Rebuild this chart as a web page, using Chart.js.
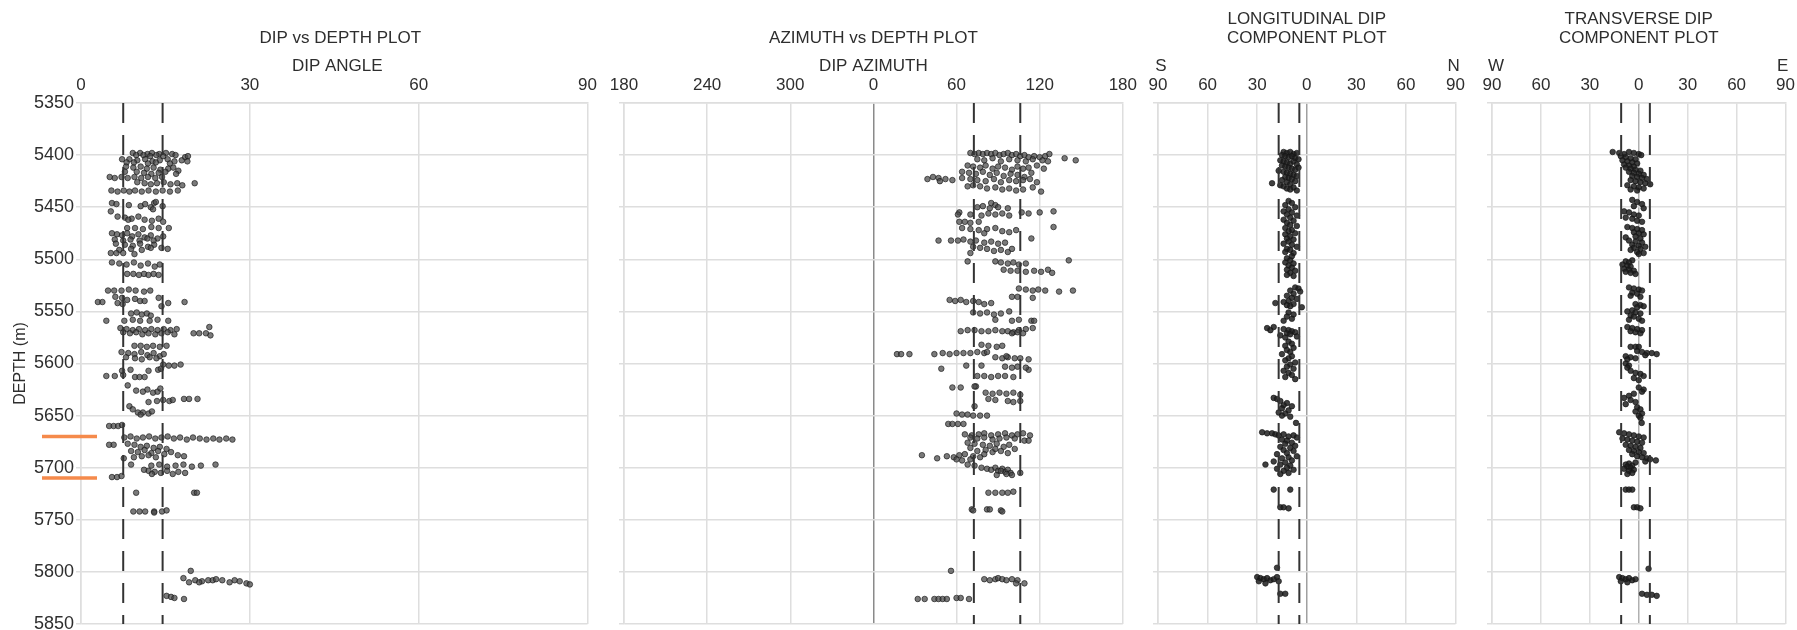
<!DOCTYPE html>
<html>
<head>
<meta charset="utf-8">
<script src="https://cdn.jsdelivr.net/npm/chart.js@4.4.1/dist/chart.umd.min.js"></script>
<style>
  html, body { margin: 0; padding: 0; background: #fff; overflow: hidden; }
  #wrap { position: relative; width: 1797px; height: 630px; }
  .panel { position: absolute; top: 0; }
</style>
</head>
<body>
<div id="wrap">
  <div class="panel" style="left:0px"><canvas id="dipChart" width="604" height="642"></canvas></div>
  <div class="panel" style="left:600px"><canvas id="aziChart" width="544" height="642"></canvas></div>
  <div class="panel" style="left:1134px"><canvas id="longChart" width="338" height="642"></canvas></div>
  <div class="panel" style="left:1468px"><canvas id="transChart" width="334" height="642"></canvas></div>
</div>
<script>
// depth axis
const depthMin = 5350;
const depthMax = 5850;
const depthStep = 50;
const markerDepths = [5670, 5710];

// dashed reference lines per panel
const dipRefs = [7.5, 14.5];
const aziRefs = [72.5, 106];
const longRefs = [-17, -4.5];
const transRefs = [-10.8, 6.8];

// [depth, dip angle]
const dipPoints = [
  [5398,9.2],[5398,10.5],[5399,11.8],[5398,12.6],[5399,13.9],[5398,15.1],[5399,16.2],[5400,9.8],[5400,11.1],[5401,12.3],[5400,13.4],[5401,14.6],[5400,16.8],[5402,18.5],[5401,19.0],
  [5404,7.3],[5404,8.6],[5405,10.0],[5404,11.4],[5406,12.7],[5405,14.0],[5404,15.4],[5406,16.6],[5405,17.9],[5407,8.1],[5407,9.4],[5408,11.9],[5407,13.3],[5408,15.8],[5406,18.9],
  [5411,8.0],[5412,9.3],[5411,10.6],[5413,11.7],[5412,12.9],[5414,14.1],[5413,15.5],[5412,16.4],[5415,17.3],[5416,7.8],[5416,9.9],[5417,11.2],[5418,12.5],[5417,13.8],[5416,15.0],[5418,16.9],
  [5421,5.1],[5422,6.0],[5421,7.2],[5422,8.3],[5421,9.5],[5422,10.7],[5421,11.9],[5422,13.2],[5421,14.4],
  [5426,10.0],[5427,11.3],[5428,12.4],[5427,13.5],[5426,14.7],[5428,15.9],[5427,17.1],[5429,18.0],[5427,20.2],
  [5434,5.4],[5435,6.5],[5434,7.6],[5435,8.6],[5434,9.6],[5435,10.8],[5434,12.0],[5435,13.3],[5434,14.5],[5435,15.8],[5434,17.2],
  [5446,5.5],[5447,6.3],[5448,8.5],[5449,10.6],[5447,11.4],[5450,12.4],[5446,13.0],[5445,13.3],[5449,14.5],[5454,5.3],[5452,12.8],
  [5459,6.5],[5460,7.8],[5461,9.0],[5459,10.2],[5462,11.3],[5463,12.6],[5461,13.8],[5464,14.6],[5462,8.4],
  [5470,8.2],[5470,9.6],[5471,11.0],[5469,12.5],[5470,13.8],[5470,15.6],
  [5475,5.5],[5476,6.4],[5477,7.3],[5475,8.2],[5478,9.1],[5476,10.2],[5479,11.3],[5477,12.4],[5480,13.6],[5478,14.6],[5481,6.0],[5482,7.5],[5481,8.8],[5482,10.4],[5480,11.8],[5482,12.9],
  [5485,6.2],[5486,7.8],[5487,9.2],[5485,10.5],[5488,11.9],[5486,13.0],[5489,14.3],[5490,15.4],[5491,6.8],[5490,8.9],[5491,10.8],[5489,12.4],
  [5494,5.3],[5494,6.3],[5494,7.5],[5495,9.5],
  [5503,5.5],[5504,6.8],[5505,8.1],[5503,9.4],[5506,10.6],[5504,11.9],[5507,13.1],[5505,14.0],
  [5514,8.2],[5514,9.3],[5515,10.3],[5514,11.2],[5515,12.0],[5514,12.9],[5515,13.8],
  [5530,4.8],[5530,5.9],[5530,7.2],[5529,8.5],[5530,9.7],[5531,11.2],[5530,12.3],
  [5536,6.1],[5537,7.3],[5539,8.2],[5538,9.6],[5540,10.5],[5541,3.0],[5541,3.8],[5542,6.5],[5540,11.3],[5543,7.4],[5542,15.5],[5541,18.4],[5537,13.8],[5545,14.3],
  [5552,8.9],[5551,9.9],[5553,10.8],[5552,11.7],[5554,12.4],
  [5559,4.5],[5559,7.7],[5558,9.2],[5559,10.5],[5559,12.2],[5558,13.6],[5559,15.5],
  [5566,7.0],[5567,8.1],[5568,9.2],[5567,10.3],[5568,11.4],[5567,12.5],[5568,13.6],[5567,14.7],[5568,15.9],[5567,17.0],[5570,7.5],[5571,8.7],[5570,9.8],[5572,10.9],[5571,12.0],[5572,13.2],[5571,14.3],[5570,15.4],[5572,16.6],[5571,20.0],[5571,21.0],[5571,22.2],[5573,23.0],[5565,22.8],
  [5583,9.5],[5583,10.6],[5584,11.7],[5583,12.8],[5584,14.0],[5583,15.2],
  [5589,7.2],[5590,8.4],[5591,9.5],[5589,10.7],[5592,11.8],[5590,12.9],[5593,14.0],[5591,14.7],[5594,8.0],[5595,9.6],[5596,10.8],[5594,12.2],[5595,13.4],
  [5601,14.6],[5602,15.6],[5602,16.6],[5601,17.7],
  [5612,4.5],[5612,6.0],[5611,7.5],[5607,7.3],[5606,8.8],[5613,9.6],[5613,10.4],[5613,11.3],[5607,12.0],[5606,13.7],[5605,14.2],
  [5621,8.3],[5626,9.8],[5627,11.0],[5625,11.8],[5628,12.8],[5627,13.6],[5624,14.1],
  [5637,12.0],[5636,13.5],[5635,14.6],[5636,15.7],[5635,16.3],[5634,18.3],[5634,19.2],[5634,20.7],
  [5641,8.6],[5644,9.2],[5647,10.1],[5647,11.0],[5648,12.0],[5646,12.6],[5649,10.6],
  [5660,5.0],[5660,5.8],[5660,6.6],[5659,7.3],
  [5671,7.7],[5670,8.8],[5672,9.9],[5671,11.0],[5670,12.1],[5672,13.2],[5671,14.3],[5670,15.4],[5672,16.5],[5671,17.6],[5673,18.8],[5671,19.9],[5672,21.1],[5673,22.3],[5672,23.5],[5673,24.6],[5672,25.8],[5673,26.9],
  [5678,5.0],[5678,5.8],
  [5677,8.3],[5678,9.5],[5680,10.6],[5679,11.7],[5681,12.9],[5680,14.0],[5682,15.2],[5684,8.9],[5685,10.1],[5683,11.3],[5686,12.5],[5684,13.7],[5687,14.8],[5685,16.0],[5688,17.2],[5689,10.8],[5688,12.0],[5690,13.3],[5689,18.3],[5691,7.6],[5690,9.4],
  [5697,8.9],[5698,12.5],[5697,13.9],[5699,15.3],[5698,16.8],[5697,18.2],[5699,19.7],[5698,21.3],[5697,23.9],
  [5703,12.0],[5704,13.1],[5705,14.2],[5703,15.3],[5706,16.3],[5704,17.3],[5705,18.5],[5702,11.2],[5706,12.6],
  [5709,5.5],[5709,6.4],[5708,7.2],
  [5724,9.8],[5724,20.1],[5724,20.6],
  [5742,9.3],[5742,10.4],[5742,11.4],[5742,13.0],[5743,13.0],[5742,14.4],[5741,15.2],
  [5799,19.5],
  [5806,18.2],[5808,20.3],[5810,19.2],[5809,21.5],[5808,22.6],[5808,23.4],[5807,24.0],[5808,25.1],[5810,26.4],[5808,27.3],[5809,28.2],[5811,29.4],[5812,30.0],[5810,21.0],
  [5823,15.2],[5824,16.0],[5825,16.6],[5826,18.3]
];

// [depth, dip azimuth]
const aziPoints = [
  [5398,70],[5399,73],[5398,76],[5399,79],[5398,82],[5399,85],[5398,88],[5400,91],[5399,94],[5398,97],[5400,100],[5399,103],[5401,106],[5400,109],[5402,112],[5401,116],[5402,120],[5401,124],[5399,127],
  [5403,138],[5405,146],[5404,75],[5405,80],[5403,86],[5406,92],[5404,98],[5405,104],[5406,110],[5404,115],[5405,122],[5406,126],
  [5410,68],[5411,72],[5412,77],[5410,81],[5413,86],[5411,90],[5412,95],[5414,100],[5411,104],[5413,108],[5412,112],[5410,118],[5413,123],
  [5416,64],[5417,69],[5418,74],[5416,79],[5419,84],[5417,89],[5420,94],[5418,99],[5419,104],[5421,109],[5417,114],
  [5423,39],[5421,43],[5422,47],[5425,48],[5423,52],[5424,57],[5422,64],[5423,70],[5424,75],[5425,81],[5423,87],[5426,92],[5424,98],[5425,103],[5424,108],[5423,113],[5426,118],
  [5429,72],[5430,77],[5432,82],[5431,88],[5433,93],[5432,98],[5434,103],[5433,108],[5431,115],[5435,121],[5430,68],
  [5446,85],[5448,88],[5450,75],[5449,79],[5451,84],[5450,90],[5451,97],
  [5455,62],[5457,61],[5457,70],[5458,78],[5456,83],[5457,88],[5456,93],[5458,98],[5455,107],[5456,112],[5455,120],[5454,130],
  [5464,62],[5464,66],[5465,70],[5464,76],
  [5469,130],[5470,64],[5471,70],[5472,76],[5471,82],[5470,88],[5473,93],[5474,98],[5472,103],[5475,80],
  [5482,47],[5482,56],[5482,61],[5481,65],[5483,70],[5482,74],[5484,80],[5483,85],[5485,90],[5484,95],[5480,114],
  [5488,72],[5489,77],[5490,82],[5492,87],[5491,92],[5493,97],[5490,100],[5494,70],
  [5502,68],[5502,88],[5503,92],[5504,97],[5503,101],[5505,105],[5504,110],[5501,141],
  [5510,94],[5511,99],[5511,104],[5512,110],[5511,116],[5512,121],[5510,126],[5513,129],
  [5528,105],[5529,110],[5530,115],[5529,119],[5530,124],[5531,134],[5530,144],
  [5536,100],[5536,104],[5537,115],
  [5539,55],[5540,59],[5539,63],[5541,67],[5540,72],[5541,76],[5543,80],[5542,85],
  [5551,72],[5552,77],[5551,82],[5553,87],[5552,92],[5550,98],
  [5558,88],[5559,100],[5558,105],[5559,114],[5559,116],
  [5569,63],[5568,68],[5568,73],[5569,78],[5569,83],[5568,88],[5569,93],[5569,97],[5570,101],[5568,105],[5567,110],[5566,115],[5571,100],[5570,104],[5571,108],
  [5582,78],[5583,83],[5584,89],[5583,93],
  [5591,17],[5591,20],[5591,26],[5591,44],[5590,50],[5591,55],[5590,60],[5590,65],[5590,70],[5589,75],[5590,80],[5589,82],[5594,88],[5595,93],[5594,97],[5595,102],[5595,106],[5596,112],[5593,96],
  [5605,49],[5602,67],[5602,78],[5603,95],[5604,100],[5603,104],[5606,112],[5604,110],
  [5612,75],[5612,80],[5613,85],[5612,90],[5612,95],[5613,101],
  [5623,57],[5623,63],[5622,74],[5622,73],
  [5628,81],[5629,86],[5628,91],[5629,96],[5628,101],[5630,106],[5634,83],[5635,88],[5636,97],[5637,101],[5636,106],
  [5641,73],
  [5648,60],[5649,64],[5649,68],[5650,72],[5650,77],[5650,82],
  [5658,54],[5658,57],[5658,61],[5658,65],
  [5668,66],[5669,71],[5668,76],[5667,80],[5669,85],[5668,90],[5667,95],[5669,100],[5668,104],[5667,108],[5669,113],[5671,70],[5672,75],[5671,80],[5673,86],[5672,91],[5671,96],[5672,102],[5674,109],[5674,112],
  [5676,68],[5677,73],[5678,79],[5679,84],[5677,89],[5680,94],[5678,98],[5682,102],[5681,70],[5684,75],[5683,81],[5685,86],[5684,92],[5686,97],[5687,80],[5682,88],
  [5688,35],[5691,46],[5689,53],[5690,58],[5688,62],[5687,66],[5689,72],[5690,77],[5692,60],[5693,64],[5692,70],
  [5697,68],[5698,73],[5700,78],[5701,82],[5702,85],[5700,88],[5703,90],[5701,93],[5704,95],[5702,97],[5705,99],[5703,92],[5706,96],[5707,100],[5705,106],[5707,89],
  [5724,83],[5724,88],[5724,93],[5724,97],[5723,101],
  [5740,71],[5741,72],[5740,82],[5740,84],[5741,92],[5742,93],
  [5799,56],
  [5807,80],[5808,84],[5807,88],[5806,90],[5807,93],[5808,96],[5807,100],[5808,104],[5811,103],[5811,109],
  [5826,32],[5826,37],[5826,44],[5826,47],[5826,50],[5826,53],[5825,60],[5825,63],[5826,69]
];

// [depth, longitudinal dip component] (negative = S)
const longPoints = [
  [5397,-14],[5398,-12],[5397,-10],[5399,-8],[5398,-6],[5400,-15],[5401,-13],[5402,-11],[5401,-9],[5403,-7],[5404,-5],[5405,-16],[5406,-14],[5407,-12],[5408,-10],[5406,-8],[5409,-6],
  [5410,-15],[5411,-13],[5412,-11],[5413,-9],[5414,-7],[5412,-5],[5415,-17],[5416,-14],[5417,-12],[5418,-10],[5419,-8],[5420,-6],[5421,-13],[5422,-11],[5423,-9],[5424,-15],[5425,-7],
  [5426,-12],[5427,-21],[5428,-10],[5429,-16],[5430,-14],[5431,-8],[5432,-12],[5433,-10],[5434,-6],
  [5444,-11],[5446,-9],[5448,-13],[5450,-7],[5452,-11],[5454,-14],[5455,-9],[5457,-12],[5458,-6],[5460,-10],[5462,-14],[5463,-8],[5465,-12],[5467,-10],[5468,-6],
  [5470,-13],[5472,-9],[5473,-11],[5475,-7],[5476,-13],[5478,-10],[5480,-12],[5481,-8],[5483,-11],[5485,-14],[5486,-9],[5488,-6],[5490,-12],[5491,-10],[5493,-13],[5494,-8],
  [5497,-9],[5499,-12],[5501,-10],[5503,-13],[5504,-8],[5506,-11],[5508,-9],[5510,-12],[5511,-7],[5513,-10],[5515,-12],[5516,-8],
  [5527,-7],[5528,-5],[5530,-10],[5531,-4],[5533,-8],[5535,-12],[5537,-9],[5538,-6],[5540,-11],[5541,-14],[5542,-19],[5543,-8],[5544,-12],[5545,-10],[5546,-3],
  [5551,-11],[5553,-8],[5555,-12],[5557,-9],[5559,-14],
  [5565,-20],[5566,-24],[5568,-22],[5567,-14],[5568,-11],[5569,-9],[5570,-7],[5571,-12],[5572,-10],[5573,-16],[5574,-6],[5575,-13],
  [5579,-11],[5581,-9],[5583,-13],[5585,-8],[5587,-12],[5589,-10],[5591,-15],[5593,-9],[5595,-11],[5597,-13],[5599,-7],[5601,-10],[5603,-12],[5605,-8],[5607,-14],[5609,-11],[5611,-9],[5613,-13],[5615,-7],
  [5633,-20],[5634,-18],[5636,-16],[5638,-12],[5640,-14],[5641,-9],[5643,-15],[5645,-11],[5647,-17],[5648,-13],[5650,-15],[5651,-10],
  [5657,-6.5],[5666,-27],[5667,-24],[5667,-21],[5668,-19],[5669,-17],[5668,-14],[5670,-11],[5669,-8],[5671,-6],[5673,-15],[5674,-12],[5676,-9],[5677,-13],[5679,-7],[5680,-16],
  [5681,-10],[5683,-14],[5684,-8],[5686,-12],[5687,-18],[5689,-6],[5690,-11],[5691,-15],[5693,-9],[5694,-20],[5695,-13],[5697,-25],[5697,-16],[5698,-10],[5700,-12],
  [5701,-18],[5702,-8],[5703,-14],[5705,-11],[5706,-16],
  [5721,-20],[5721,-10],[5738,-16],[5738,-14],[5739,-11],
  [5796,-18],[5805,-30],[5806,-28],[5807,-26],[5806,-24],[5808,-22],[5807,-20],[5805,-18],[5809,-29],[5809,-17],[5811,-25],[5821,-16],[5821,-13]
];

// [depth, transverse dip component] (negative = W)
const transPoints = [
  [5397,-16],[5398,-12],[5399,-9],[5397,-6],[5398,-3],[5399,0],[5400,1.5],[5401,-11],[5402,-8],[5403,-5],[5404,-2],[5405,-10],[5406,-7],[5407,-4],[5408,-1],[5409,-9],[5410,-6],[5411,-3],
  [5412,-8],[5413,-5],[5414,-2],[5415,1],[5416,-6],[5417,-3],[5418,0],[5419,3],[5420,-4],[5421,-1],[5422,2],[5423,5],[5424,-5],[5425,-2],[5426,1],[5427,4],[5428,7],[5429,-7],[5430,-3],[5431,0],[5432,3],[5433,-5],[5434,-1],
  [5443,-4],[5445,-1],[5447,2],[5449,-3],[5451,3],[5454,-9],[5455,-6],[5457,-3],[5458,0],[5460,-8],[5461,-4],[5463,-1],[5464,2],
  [5469,-7],[5470,-4],[5471,-1],[5472,2],[5474,-3],[5475,0],[5476,3],[5478,-2],[5479,-8],[5480,1],[5482,-6],[5483,-2],[5484,2],[5486,-4],[5487,0],[5488,4],[5489,-3],[5490,1],[5491,-5],[5493,-1],[5494,3],[5495,0],
  [5501,-4],[5502,-8],[5503,-6],[5505,-10],[5506,-7],[5507,-5],[5509,-9],[5510,-6],[5511,-3],[5512,-8],[5513,-5],[5514,-2],
  [5527,-6],[5528,-3],[5529,0],[5530,2],[5532,-4],[5533,-1],[5535,-5],[5536,1],[5543,-2],[5544,1],[5545,3],[5546,-1],[5549,-4],[5550,-7],[5551,-2],[5552,1],[5554,-5],[5555,-3],[5557,0],[5558,-6],[5559,2],
  [5565,-7],[5566,-4],[5567,-1],[5568,2],[5569,-5],[5570,-2],[5571,1],
  [5584,-5],[5584,-2],[5584,0],[5588,-1],[5589,2],[5590,5],[5590,8],[5591,11],[5592,4],[5593,-8],[5594,-5],[5595,-2],[5596,-7],
  [5600,-8],[5602,-6],[5604,-7],[5607,-5],[5609,-2],[5610,1],[5612,3],[5614,-3],[5616,0],
  [5623,0],[5625,3],[5627,2],[5629,-3],[5631,-6],[5633,-9],[5635,-5],[5637,-2],[5639,-8],[5642,-1],[5644,1],[5646,-2],[5648,2],[5650,0],[5652,1],
  [5657,1.8],[5666,-12],[5667,-9],[5668,-6],[5669,-3],[5670,0],[5671,3],[5672,-10],[5673,-7],[5674,-4],[5675,-1],[5676,2],[5678,-8],[5679,-5],[5680,-2],[5681,1],
  [5683,-6],[5684,-3],[5685,0],[5686,3],[5687,-4],[5689,-1],[5690,2],[5691,5],[5692,7],[5693,10.5],[5694,4],[5695,-2],[5696,-6],[5697,-8],[5698,-4],[5699,-7],[5700,-5],
  [5701,-9],[5702,-3],[5703,-6],[5705,-4],[5706,-7],
  [5721,-8],[5721,-6],[5721,-4],[5738,-3],[5738,-1],[5739,1],
  [5797,6],[5805,-12],[5806,-10],[5807,-8],[5806,-6],[5808,-4],[5807,-2],[5809,-11],[5810,-7],[5821,2],[5822,5],[5822,8],[5823,11]
];

const FONT = '"Liberation Sans", Arial, sans-serif';
const TEXT = '#2e2e2e';
const GRID = '#dedede';

Chart.defaults.font.family = FONT;
Chart.defaults.color = TEXT;

const toXY = pts => pts.map(([d, v]) => ({ x: v, y: d }));

// header text (titles, axis captions, S/N W/E letters)
const headerPlugin = {
  id: 'headers',
  afterDraw(chart, args, opts) {
    const { ctx, chartArea: a } = chart;
    ctx.save();
    ctx.fillStyle = TEXT;
    ctx.textBaseline = 'middle';
    ctx.textAlign = 'center';
    ctx.font = '17px ' + FONT;
    (opts.items || []).forEach(it => {
      let x = (a.left + a.right) / 2;
      if (it.at === 'left') x = a.left;
      if (it.at === 'right') x = a.right;
      ctx.fillText(it.text, x + (it.dx || 0), it.y);
    });
    ctx.restore();
  }
};

// orange depth markers left of the dip panel
const markerPlugin = {
  id: 'markers',
  afterDraw(chart, args, opts) {
    if (!opts.depths) return;
    const { ctx, chartArea: a, scales } = chart;
    ctx.save();
    ctx.strokeStyle = '#f58a4b';
    ctx.lineWidth = 3.5;
    opts.depths.forEach(d => {
      const py = scales.y.getPixelForValue(d);
      ctx.beginPath();
      ctx.moveTo(a.left - 39, py);
      ctx.lineTo(a.left + 16, py);
      ctx.stroke();
    });
    ctx.restore();
  }
};

function refLine(v) {
  return {
    type: 'line',
    data: [{ x: v, y: depthMin }, { x: v, y: depthMax }],
    borderColor: '#333',
    borderWidth: 2,
    borderDash: [20, 12],
    pointRadius: 0,
    order: 0
  };
}

function makePanel(id, cfg) {
  const showDepth = !!cfg.showDepth;
  return new Chart(document.getElementById(id), {
    type: 'scatter',
    data: {
      datasets: [
        ...cfg.refs.map(refLine),
        {
          type: 'scatter',
          data: toXY(cfg.points),
          pointRadius: 2.8,
          pointBorderWidth: 0.8,
          backgroundColor: cfg.fill,
          borderColor: 'rgba(20,20,20,0.8)',
          order: 1
        }
      ]
    },
    options: {
      responsive: false,
      animation: false,
      layout: { padding: { top: 75, bottom: 18, left: 0, right: cfg.padRight || 12 } },
      plugins: {
        legend: { display: false },
        tooltip: { enabled: false },
        headers: { items: cfg.headers },
        markers: { depths: cfg.markers }
      },
      scales: {
        x: {
          type: 'linear',
          position: 'top',
          min: cfg.xMin,
          max: cfg.xMax,
          afterFit: s => { s.height = 28; },
          afterBuildTicks: s => { s.ticks = cfg.xTicks.map(v => ({ value: v })); },
          ticks: {
            padding: 7,
            font: { size: 17 },
            color: TEXT,
            maxRotation: 0,
            callback: cfg.tickLabel
          },
          grid: {
            drawTicks: false,
            lineWidth: 1.5,
            color: ctx => (ctx.tick && ctx.tick.value === 0 && cfg.zeroColor) ? cfg.zeroColor : GRID
          },
          border: { display: true, color: GRID, width: 1.5 }
        },
        y: {
          type: 'linear',
          reverse: true,
          min: depthMin,
          max: depthMax,
          afterFit: s => { s.width = cfg.yWidth; },
          ticks: {
            display: showDepth,
            stepSize: depthStep,
            padding: 2,
            font: { size: 18 },
            color: TEXT,
            callback: v => String(v)
          },
          title: {
            display: showDepth,
            text: 'DEPTH (m)',
            font: { size: 16 },
            color: TEXT,
            padding: { top: 11, bottom: 0 }
          },
          grid: { lineWidth: 1.5, color: GRID, tickLength: 5 },
          border: { display: true, color: GRID, width: 1.5 }
        }
      }
    },
    plugins: [headerPlugin, markerPlugin]
  });
}

makePanel('dipChart', {
  showDepth: true,
  yWidth: 81,
  points: dipPoints,
  refs: dipRefs,
  markers: markerDepths,
  fill: 'rgba(70,70,70,0.72)',
  xMin: 0, xMax: 90,
  xTicks: [0, 30, 60, 90],
  tickLabel: v => String(v),
  headers: [
    { text: 'DIP vs DEPTH PLOT', y: 38, dx: 6 },
    { text: 'DIP ANGLE', y: 66, dx: 3 }
  ]
});

makePanel('aziChart', {
  yWidth: 24,
  points: aziPoints,
  refs: aziRefs,
  fill: 'rgba(70,70,70,0.72)',
  xMin: -180, xMax: 180,
  xTicks: [-180, -120, -60, 0, 60, 120, 180],
  tickLabel: v => String(v < 0 ? v + 360 : v),
  zeroColor: '#8a8a8a',
  headers: [
    { text: 'AZIMUTH vs DEPTH PLOT', y: 38 },
    { text: 'DIP AZIMUTH', y: 66 }
  ]
});

makePanel('longChart', {
  yWidth: 24,
  points: longPoints,
  refs: longRefs,
  fill: 'rgba(30,30,30,0.85)',
  xMin: -90, xMax: 90,
  xTicks: [-90, -60, -30, 0, 30, 60, 90],
  tickLabel: v => String(Math.abs(v)),
  zeroColor: '#a0a0a0',
  headers: [
    { text: 'LONGITUDINAL DIP', y: 19 },
    { text: 'COMPONENT PLOT', y: 38 },
    { text: 'S', at: 'left', y: 66, dx: 3 },
    { text: 'N', at: 'right', y: 66, dx: -2 }
  ]
});

makePanel('transChart', {
  yWidth: 24,
  points: transPoints,
  refs: transRefs,
  fill: 'rgba(30,30,30,0.85)',
  xMin: -90, xMax: 90,
  xTicks: [-90, -60, -30, 0, 30, 60, 90],
  tickLabel: v => String(Math.abs(v)),
  zeroColor: '#b0b0b0',
  padRight: 10,
  headers: [
    { text: 'TRANSVERSE DIP', y: 19 },
    { text: 'COMPONENT PLOT', y: 38 },
    { text: 'W', at: 'left', y: 66, dx: 4 },
    { text: 'E', at: 'right', y: 66, dx: -3 }
  ]
});
</script>
</body>
</html>
